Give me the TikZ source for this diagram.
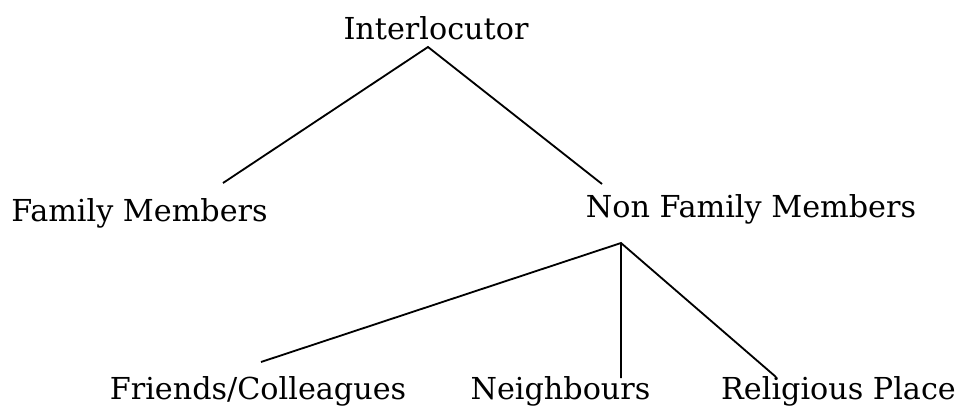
\documentclass[tikz,border=0pt]{standalone}
\usepackage{fontspec}
\setmainfont{DejaVu Serif}
\usepackage{tikz}

\begin{document}
\begin{tikzpicture}[x=0.025cm, y=-0.025cm]
    \useasboundingbox (0, 0) rectangle (960, 408);

    \begin{scope}[every node/.style={anchor=base, inner sep=0pt, font=\fontsize{21.5}{25}\selectfont}]
      \node (int) at (436, 39) {Interlocutor};
      \node (fm) at (139.5, 221) {Family Members};
      \node (nfm) at (751, 217) {Non Family Members};
      \node (fc) at (258, 399) {Friends/Colleagues};
      \node (nb) at (560.5, 399) {Neighbours};
      \node (rp) at (838.5, 399) {Religious Place};
    \end{scope}

    \begin{scope}[line width=1.3pt]
      \draw ([shift={(83.5, -38)}]fm.base) -- ([shift={(-8, 8)}]int.base) -- ([shift={(-149, -33)}]nfm.base);
      \draw ([shift={(3, -37)}]fc.base) -- ([shift={(-130, 26)}]nfm.base) -- ([shift={(-62.5, -22)}]rp.base);
      \draw ([shift={(-130, 26)}]nfm.base) -- ([shift={(60.5, -21)}]nb.base);
    \end{scope}

  \end{tikzpicture}
\end{document}
